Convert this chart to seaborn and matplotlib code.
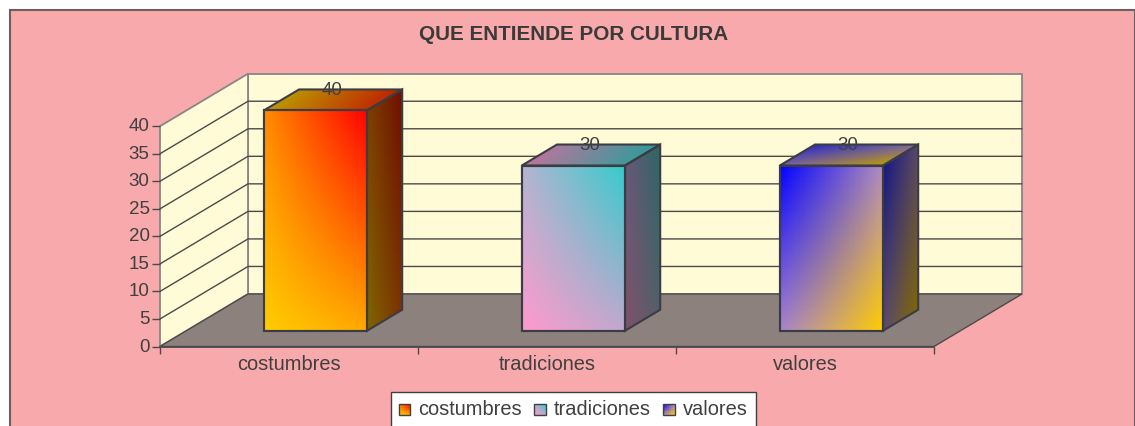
import numpy as np
import pandas as pd
import seaborn as sns
import matplotlib
matplotlib.use("Agg")
import matplotlib.pyplot as plt
from matplotlib.legend_handler import HandlerBase
from matplotlib.patches import Patch, Polygon, Rectangle
from matplotlib.transforms import Affine2D

categories = ["costumbres", "tradiciones", "valores"]
values = [40, 30, 30]
y_ticks = [0, 5, 10, 15, 20, 25, 30, 35, 40]
title = "QUE ENTIENDE POR CULTURA"

W, H = 1135, 426
DEPTH_PX = (88, 52.5)
TEXT = "#404040"
FONT = "Liberation Sans"

# face colours per bar, corners: bottom-left, bottom-right, top-left, top-right
front = [
    ["#FFCC00", "#FFA800", "#FF8C00", "#FF0000"],
    ["#FF99CC", "#C0A8CD", "#B4B4D0", "#33CCCC"],
    ["#A884CC", "#FFCC00", "#0000FF", "#B08CC0"],
]
side = [
    ["#7F6600", "#7A3000", "#7F4000", "#6E0E00"],
    ["#80506A", "#50606A", "#6A5878", "#2B6666"],
    ["#5A4A70", "#7F6600", "#16167F", "#58486A"],
]
top = [
    ["#BF9900", "#BF3000", "#B89000", "#BF2000"],
    ["#BF7399", "#409A9A", "#A87AA0", "#2F9A9A"],
    ["#7A62A0", "#BF9900", "#2A2ABF", "#7A6AA0"],
]


def px_to_fig(x, y):
    return x / W, 1 - y / H


def rgb(c):
    return np.array(matplotlib.colors.to_rgb(c))


def gradient_grid(corners, n=40):
    bl, br, tl, tr = [rgb(c) for c in corners]
    u = (np.arange(n) + 0.5) / n
    uu, vv = np.meshgrid(u, u)
    uu, vv = uu[..., None], vv[..., None]
    return (1 - vv) * ((1 - uu) * bl + uu * br) + vv * ((1 - uu) * tl + uu * tr)


sns.set_theme(style="white")
plt.rcParams["font.family"] = FONT

fig = plt.figure(figsize=(W / 100, H / 100), dpi=100, facecolor="white")
fig.add_artist(Rectangle(px_to_fig(9.5, 440), 1125 / W, 430 / H,
                         transform=fig.transFigure, facecolor="#F8A9AB",
                         edgecolor="#6A6060", linewidth=1.5))

# the 3D boxes go on a pixel sized layer under the real axes
layer = fig.add_axes([0, 0, 1, 1], zorder=1)
layer.set_xlim(0, W)
layer.set_ylim(0, H)
layer.axis("off")

left, right, bottom, upper = 160, 934, 346.5, 126.2
ax = fig.add_axes([left / W, 1 - bottom / H, (right - left) / W, (bottom - upper) / H], zorder=2)
ax.patch.set_alpha(0)
ax.set_xlim(-0.5, 2.5)
ax.set_ylim(0, 40)


def point(x, v, d=0.0):
    px = ax.transData.transform((x, v))
    return px + np.array(DEPTH_PX) * d


def quad(p_bl, p_br, p_tl, p_tr, colors, z):
    n = 121
    s = np.linspace(0, 1, n)
    uu, vv = np.meshgrid(s, s)
    uu, vv = uu[..., None], vv[..., None]
    xy = (1 - vv) * ((1 - uu) * p_bl + uu * p_br) + vv * ((1 - uu) * p_tl + uu * p_tr)
    layer.pcolormesh(xy[..., 0], xy[..., 1], gradient_grid(colors, n - 1), shading="flat",
                     zorder=z, antialiased=False, linewidth=0)
    layer.add_patch(Polygon([p_bl, p_br, p_tr, p_tl], closed=True, fill=False,
                            edgecolor="#3C3C44", linewidth=1.5, zorder=z + 0.1))


def flat(points, face, edge, lw, z):
    layer.add_patch(Polygon(points, closed=True, facecolor=face, edgecolor=edge, linewidth=lw, zorder=z))


x0, x1 = -0.5, 2.5
# walls and floor
flat([point(x0, 0, 1), point(x1, 0, 1), point(x1, 40, 1), point(x0, 40, 1)], "#FFFBD7", "#8A8585", 1.3, 0.5)
flat([point(x0, 0), point(x0, 0, 1), point(x0, 40, 1), point(x0, 40)], "#FFFBD7", "#8A8585", 1.3, 0.6)
flat([point(x0, 0), point(x1, 0), point(x1, 0, 1), point(x0, 0, 1)], "#8D817E", "#4E4A4A", 1.0, 0.7)

for t in y_ticks[1:-1]:
    pts = np.array([point(x0, t), point(x0, t, 1), point(x1, t, 1)])
    layer.plot(pts[:, 0], pts[:, 1], color="#4A4A4A", lw=1.0, zorder=0.8)

df = pd.DataFrame({"categoria": categories, "valor": values})
sns.barplot(data=df, x="categoria", y="valor", width=0.4, fill=False, color="#3C3C44",
            linewidth=1.5, ax=ax, zorder=3, clip_on=False)
bars = ax.containers[0]

# each bar sits at 0.3 of the depth and is 0.4 deep
d0, d1 = 0.3, 0.7
shift = Affine2D().translate(DEPTH_PX[0] * d0, DEPTH_PX[1] * d0)
for i, rect in enumerate(bars):
    a, b = rect.get_x(), rect.get_x() + rect.get_width()
    v = rect.get_height()
    quad(point(b, 0, d0), point(b, 0, d1), point(b, v, d0), point(b, v, d1), side[i], 2)
    quad(point(a, v, d0), point(b, v, d0), point(a, v, d1), point(b, v, d1), top[i], 2)
    quad(point(a, 0, d0), point(b, 0, d0), point(a, v, d0), point(b, v, d0), front[i], 2.5)
    rect.set_transform(ax.transData + shift)
    ax.annotate(str(values[i]), (i, v), xytext=(43, 36), textcoords="offset pixels",
                ha="center", va="center", fontsize=13.5, color=TEXT, zorder=5,
                annotation_clip=False)

ax.set_xlim(x0, x1)
ax.set_ylim(0, 40)
ax.set_xlabel("")
ax.set_ylabel("")
ax.set_yticks(y_ticks)
ax.set_xticks([0, 1, 2], categories)
ax.set_xticks([-0.5, 0.5, 1.5, 2.5], minor=True)
ax.tick_params(axis="x", which="major", length=0, pad=6, labelsize=14.4, labelcolor=TEXT)
ax.tick_params(axis="x", which="minor", length=5, width=1, color="#4A4A4A", bottom=True)
ax.tick_params(axis="y", length=5.5, width=1, color="#4A4A4A", left=True, pad=2,
               labelsize=13.5, labelcolor=TEXT)
for label in ax.get_yticklabels():
    label.set_transform(label.get_transform() + Affine2D().translate(0, 1.5))
for name, spine in ax.spines.items():
    spine.set_visible(name == "bottom")
    spine.set_color("#4A4A4A")
    spine.set_linewidth(1.3)

fig.text(573.5 / W, 1 - 35 / H, title, ha="center", va="center", fontsize=14.9,
         fontweight="bold", color="#3A3A3A")


class GradientHandler(HandlerBase):
    def __init__(self, colors):
        super().__init__()
        self.colors = colors

    def create_artists(self, legend, orig, xd, yd, width, height, fontsize, trans):
        grid = gradient_grid(self.colors, 6)
        arts = []
        w, h = 11.5 * 0.72, 10.5 * 0.72
        for r in range(6):
            for c in range(6):
                arts.append(Rectangle((c * w / 6, r * h / 6), w / 6 + 0.1, h / 6 + 0.1,
                                      facecolor=grid[r, c], edgecolor="none", transform=trans))
        arts.append(Rectangle((0, 0), w, h, fill=False, edgecolor="#404040", lw=1.0, transform=trans))
        return arts


handles = [Patch(label=c) for c in categories]
leg = fig.legend(handles=handles, labels=categories, loc="lower left",
                 bbox_to_anchor=(391 / W, 1 - 426.5 / H), ncol=3, frameon=True, fancybox=False,
                 framealpha=1, facecolor="white", edgecolor="#404040", fontsize=14.4,
                 labelcolor=TEXT, handlelength=0.85, handletextpad=0.15, columnspacing=0.6,
                 borderpad=0.38, borderaxespad=0,
                 handler_map={h: GradientHandler(front[i]) for i, h in enumerate(handles)})
leg.get_frame().set_linewidth(1.0)
leg.set_zorder(5)

fig.savefig("out.png", dpi=100)
